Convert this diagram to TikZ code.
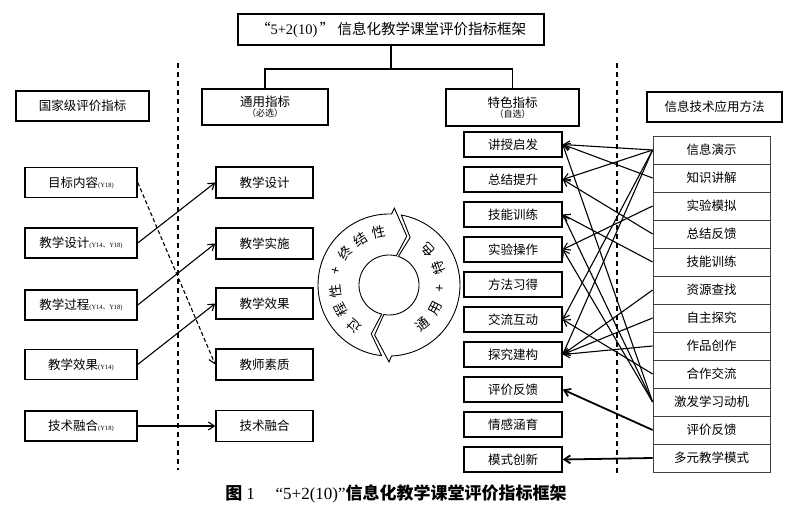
\documentclass[tikz,border=0pt]{standalone}
\usepackage{fontspec}
\setmainfont{Noto Sans CJK SC}
\newfontfamily\lat{Liberation Serif}
\usetikzlibrary{arrows.meta}
\newcommand\smy[1]{{\fontsize{6.5}{7}\selectfont\lat #1}}
\begin{document}
\begin{tikzpicture}[x=1pt,y=-1pt,
  bx/.style={draw,line width=1.5pt,inner sep=0pt,font=\fontsize{12.5}{14}\selectfont},
  lbox/.style={bx,minimum width=112pt,minimum height=30pt},
  mbox/.style={bx,minimum width=97pt,minimum height=31pt},
  sbox/.style={bx,minimum width=98pt,minimum height=25pt},
  trow/.style={draw=black!75,line width=0.8pt,inner sep=0pt,minimum width=117pt,minimum height=28pt,font=\fontsize{12.5}{14}\selectfont},
  conn/.style={line width=1.5pt},
  arr/.style={-{Straight Barb[length=6pt,width=8pt]},line width=1.1pt},
  tarr/.style={-{Straight Barb[length=6pt,width=8pt]},line width=1.8pt},
  dline/.style={line width=1.3pt,dash pattern=on 5pt off 4pt},
  ringtxt/.style={inner sep=0pt,font=\fontsize{13.5}{13.5}\selectfont}]
\useasboundingbox (0,0) rectangle (800,518);

% title
\node[bx,minimum width=306pt,minimum height=31pt,font=\fontsize{14.5}{16}\selectfont] (title) at (391,29.5) {“{\lat 5+2(10)}\,” 信息化教学课堂评价指标框架};

% headers
\node[bx,minimum width=133pt,minimum height=30pt] (lh) at (82.5,106) {国家级评价指标};
\node[bx,minimum width=126pt,minimum height=36pt,align=center] (mh) at (265,107) {通用指标\\[-4pt]{\fontsize{9}{10}\selectfont （必选）}};
\node[bx,minimum width=133pt,minimum height=37pt,align=center] (sh) at (512.5,107.5) {特色指标\\[-4pt]{\fontsize{9}{10}\selectfont （自选）}};
\node[bx,minimum width=135pt,minimum height=30pt] (th) at (714.5,107) {信息技术应用方法};

\coordinate (j) at (391,69);
\draw[conn] (title.south) -- (j);
\draw[conn] (mh.north) |- (j) -| (sh.north);

% dashed separators
\coordinate (d1t) at (178,63);
\coordinate (d1b) at (178,470);
\coordinate (d2t) at (617,63);
\coordinate (d2b) at (617,474);
\draw[dline] (d1t) -- (d1b);
\draw[dline] (d2t) -- (d2b);

% left column
\node[lbox] (l1) at (81,182.5) {目标内容\smy{(Y18)}};
\node[lbox] (l2) at (81,243) {教学设计\smy{(Y14{\rmfamily 、}Y18)}};
\node[lbox] (l3) at (81,305) {教学过程\smy{(Y14{\rmfamily 、}Y18)}};
\node[lbox] (l4) at (81,364.5) {教学效果\smy{(Y14)}};
\node[lbox] (l5) at (81,426) {技术融合\smy{(Y18)}};

% middle column
\node[mbox] (m1) at (264.5,182.5) {教学设计};
\node[mbox] (m2) at (264.5,243.5) {教学实施};
\node[mbox] (m3) at (264.5,303.5) {教学效果};
\node[mbox] (m4) at (264.5,364.5) {教师素质};
\node[mbox] (m5) at (264.5,426) {技术融合};

\draw[arr] (l2.east) -- (m1.west);
\draw[arr] (l3.east) -- (m2.west);
\draw[arr] (l4.east) -- (m3.west);
\draw[arr] (l5.east) -- (m5.west);
\draw[arr,dash pattern=on 4pt off 2.5pt] (l1.east) -- (m4.west);

% special column
\node[sbox] (s1) at (513,144.5) {讲授启发};
\node[sbox] (s2) at (513,179.5) {总结提升};
\node[sbox] (s3) at (513,214.5) {技能训练};
\node[sbox] (s4) at (513,249.5) {实验操作};
\node[sbox] (s5) at (513,284.5) {方法习得};
\node[sbox] (s6) at (513,319.5) {交流互动};
\node[sbox] (s7) at (513,354.5) {探究建构};
\node[sbox] (s8) at (513,389.5) {评价反馈};
\node[sbox] (s9) at (513,424.5) {情感涵育};
\node[sbox] (s10) at (513,459.5) {模式创新};

% tech table
\node[trow] (t1) at (711.5,150) {信息演示};
\node[trow] (t2) at (711.5,178) {知识讲解};
\node[trow] (t3) at (711.5,206) {实验模拟};
\node[trow] (t4) at (711.5,234) {总结反馈};
\node[trow] (t5) at (711.5,262) {技能训练};
\node[trow] (t6) at (711.5,290) {资源查找};
\node[trow] (t7) at (711.5,318) {自主探究};
\node[trow] (t8) at (711.5,346) {作品创作};
\node[trow] (t9) at (711.5,374) {合作交流};
\node[trow] (t10) at (711.5,402) {激发学习动机};
\node[trow] (t11) at (711.5,430) {评价反馈};
\node[trow] (t12) at (711.5,458) {多元教学模式};

% connections
\draw[arr] (t1.west) -- (s1.east);
\draw[arr] (t1.west) -- (s2.east);
\draw[arr] (t1.west) -- (s6.east);
\draw[arr] (t1.west) -- (s7.east);
\draw[arr] (t2.west) -- (s1.east);
\draw[arr] (t3.west) -- (s4.east);
\draw[arr] (t4.west) -- (s2.east);
\draw[arr] (t5.west) -- (s3.east);
\draw[arr] (t6.west) -- (s7.east);
\draw[arr] (t7.west) -- (s7.east);
\draw[arr] (t8.west) -- (s7.east);
\draw[arr] (t9.west) -- (s6.east);
\draw[arr] (t10.west) -- (s1.east);
\draw[arr] (t10.west) -- (s3.east);
\draw[arr] (t10.west) -- (s4.east);
\draw[tarr] (t11.west) -- (s8.east);
\draw[tarr] (t12.west) -- (s10.east);

% cycle
\begin{scope}[shift={(389,285)}]
\draw[line width=0.9pt,fill=white] (96:71) -- plot[domain=96:272,samples=50] ({71*cos(\x)},{71*sin(\x)})
  -- (274:77) -- (290:52) -- (284:30)
  -- plot[domain=284:104,samples=50] ({30*cos(\x)},{30*sin(\x)}) -- (110:52) -- cycle;
\draw[line width=0.9pt,fill=white] (280:71) -- plot[domain=280:448,samples=50] ({71*cos(\x)},{71*sin(\x)})
  -- (450:77) -- (466:52) -- (460:30)
  -- plot[domain=460:288,samples=50] ({30*cos(\x)},{30*sin(\x)}) -- (294:52) -- cycle;
\foreach \ch [count=\i from 0] in {过,程,性,+,终,结,性} {
  \node[ringtxt,rotate={270-(131+21.3*\i)}] (ra\i) at ({131+21.3*\i}:54) {\ch};
}
\foreach \ch [count=\i from 0] in {通,用,+,特,色} {
  \node[ringtxt,rotate={90-(50-23*\i)}] (rb\i) at ({50-23*\i}:52) {\ch};
}
\end{scope}

% caption
\node[inner sep=0pt,font=\fontsize{17}{19}\selectfont\bfseries] (cap) at (396,494) {图 {\lat\mdseries 1}\quad\ {\lat\mdseries “5+2(10)”}信息化教学课堂评价指标框架};
\end{tikzpicture}
\end{document}
